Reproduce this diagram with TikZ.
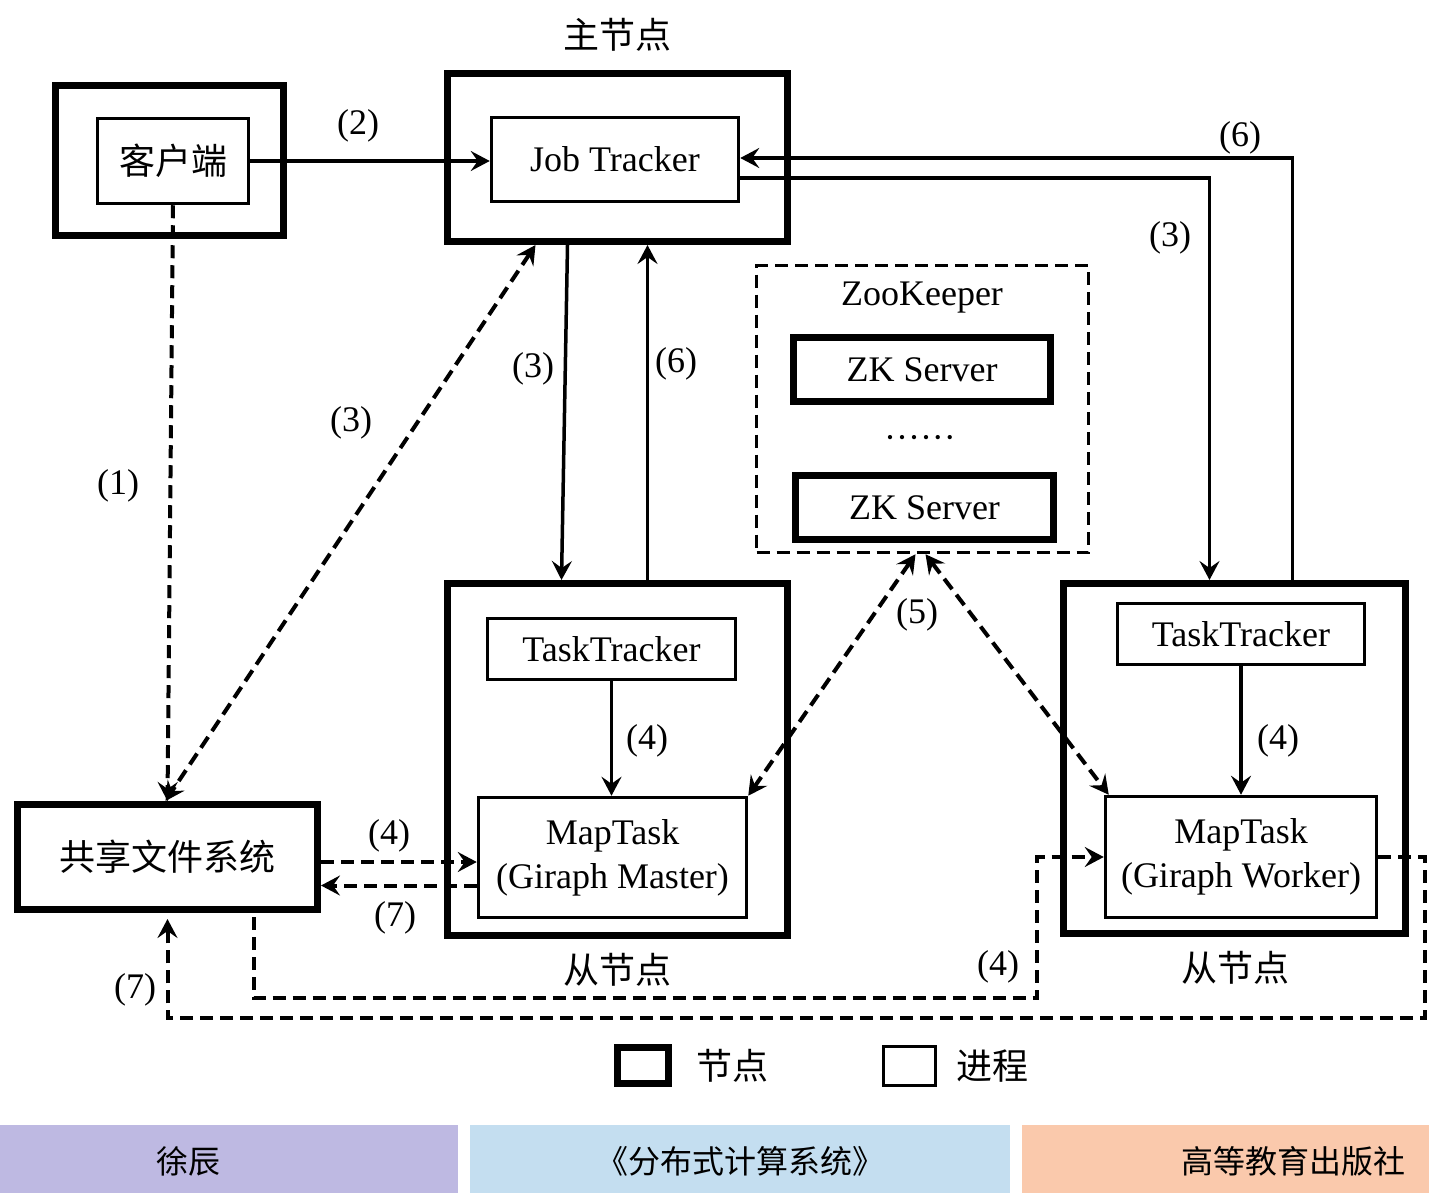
\documentclass[tikz,border=0pt]{standalone}
\usepackage{fontspec}
\setmainfont{Liberation Serif}
\newfontfamily\cjk{Noto Sans CJK SC}
\usetikzlibrary{arrows.meta}

\definecolor{barpurple}{RGB}{190,185,226}
\definecolor{barblue}{RGB}{196,222,240}
\definecolor{barorange}{RGB}{250,201,172}

\begin{document}
\begin{tikzpicture}[x=1pt,y=-1pt,
  font=\fontsize{36}{44}\selectfont,
  >={Stealth[length=19pt,width=20pt,inset=7pt]},
  nodebox/.style={draw,line width=7pt,inner sep=0pt},
  procbox/.style={draw,line width=3.5pt,inner sep=0pt,align=center},
  flow/.style={line width=3.5pt,->},
  dflow/.style={line width=4pt,dash pattern=on 13pt off 7pt},
  l/.style={inner sep=0pt}]
  \useasboundingbox (0,0) rectangle (1429,1193);
  % client and master
  \node[nodebox,minimum width=228pt,minimum height=150pt] (client) at (169.5,160.5) {};
  \node[procbox,minimum width=151pt,minimum height=85pt] (kh) at (173,161) {\cjk 客户端};
  \node[nodebox,minimum width=340pt,minimum height=168pt] (master) at (617.5,157.5) {};
  \node[procbox,minimum width=247pt,minimum height=84pt] (jt) at (615,159.5) {Job Tracker};
  \node[l] (tmaster) at (617,35) {\cjk 主节点};
  % zookeeper
  \node[procbox,dash pattern=on 13pt off 7pt,minimum width=332pt,minimum height=287pt] (zk) at (922.5,409) {};
  \node[l] (tzk) at (922,298) {ZooKeeper};
  \node[nodebox,minimum width=257pt,minimum height=64pt] (zk1) at (922,369.5) {ZK Server};
  \node[l] (dots) at (920,442) {\textperiodcentered\textperiodcentered\textperiodcentered\textperiodcentered\textperiodcentered\textperiodcentered};
  \node[nodebox,minimum width=258pt,minimum height=64pt] (zk2) at (924.5,507.5) {ZK Server};
  % slaves
  \node[nodebox,minimum width=340pt,minimum height=352pt] (s1) at (617.5,759.5) {};
  \node[procbox,minimum width=248pt,minimum height=61pt] (tt1) at (611.5,649) {TaskTracker};
  \node[procbox,minimum width=268pt,minimum height=120pt] (mt1) at (612.5,857.5) {MapTask\\(Giraph Master)};
  \node[l] (ts1) at (617,970) {\cjk 从节点};
  \node[nodebox,minimum width=342pt,minimum height=350pt] (s2) at (1234.5,758.5) {};
  \node[procbox,minimum width=247pt,minimum height=61pt] (tt2) at (1241,634) {TaskTracker};
  \node[procbox,minimum width=271pt,minimum height=121pt] (mt2) at (1241,857) {MapTask\\(Giraph Worker)};
  \node[l] (ts2) at (1235,968) {\cjk 从节点};
  % shared file system
  \node[nodebox,minimum width=300pt,minimum height=105pt] (fs) at (167.5,857) {\cjk 共享文件系统};
  % connectors
  \draw[flow] (kh.east) -- (kh.east -| jt.west);
  \draw[dflow,->] (kh.south) -- (fs.north);
  \draw[dflow,<->] ([xshift=-82pt]master.south) -- ([xshift=-2pt]fs.north);
  \draw[flow] ([xshift=-50pt]master.south) -- ([xshift=-56pt]s1.north);
  \draw[flow] ([xshift=30pt]s1.north) -- ([xshift=30pt]s1.north |- master.south);
  \draw[flow] ([xshift=58pt]s2.north) |- ([yshift=1.5pt]jt.east);
  \draw[flow] ([yshift=-18.5pt]jt.east) -| ([xshift=-25pt]s2.north);
  \draw[flow] (tt1.south) -- (tt1.south |- mt1.north);
  \draw[flow] (tt2.south) -- (tt2.south |- mt2.north);
  \draw[dflow,<->] ([xshift=-7pt]zk.south) -- (mt1.north east);
  \draw[dflow,<->] ([xshift=3pt]zk.south) -- ([xshift=5pt]mt2.north west);
  \draw[dflow,->] ([yshift=-5pt]fs.east) -- ([yshift=-5pt]fs.east -| mt1.west);
  \draw[dflow,->] ([yshift=-28pt]mt1.west) -- ([yshift=-28pt]mt1.west -| fs.east);
  \coordinate (c4) at (1037,998);
  \coordinate (c7) at (1425,1018);
  \draw[dflow,->] ([xshift=86pt,yshift=-4pt]fs.south) |- (c4) |- (mt2.west);
  \draw[dflow,->] (mt2.east) -| (c7) -| ([yshift=-6pt]fs.south);
  % step labels
  \node[l] (l2) at (358,126) {(2)};
  \node[l] (l1) at (118,486) {(1)};
  \node[l] (l3a) at (351,423) {(3)};
  \node[l] (l3b) at (533,369) {(3)};
  \node[l] (l6a) at (676,364) {(6)};
  \node[l] (l6b) at (1240,138) {(6)};
  \node[l] (l3c) at (1170,238) {(3)};
  \node[l] (l4a) at (647,741) {(4)};
  \node[l] (l4b) at (1278,741) {(4)};
  \node[l] (l5) at (917,615) {(5)};
  \node[l] (l4c) at (389,836) {(4)};
  \node[l] (l7a) at (395,918) {(7)};
  \node[l] (l4d) at (998,967) {(4)};
  \node[l] (l7b) at (135,990) {(7)};
  % legend
  \node[nodebox,minimum width=51pt,minimum height=36pt] (kn) at (643,1065.5) {};
  \node[l,anchor=west] (tkn) at (696,1066) {\cjk 节点};
  \node[procbox,minimum width=52pt,minimum height=39pt] (kp) at (909.5,1066) {};
  \node[l,anchor=west] (tkp) at (956,1066) {\cjk 进程};
  % footer bar
  \fill[barpurple] (0,1125) rectangle (458,1193);
  \fill[barblue] (470,1125) rectangle (1010,1193);
  \fill[barorange] (1022,1125) rectangle (1429,1193);
  \node[l,font=\fontsize{32}{36}\selectfont] (fa) at (188,1161) {\cjk 徐辰};
  \node[l,font=\fontsize{32}{36}\selectfont] (fb) at (740,1161) {\cjk 《分布式计算系统》};
  \node[l,font=\fontsize{32}{36}\selectfont] (fc) at (1293,1161) {\cjk 高等教育出版社};
\end{tikzpicture}
\end{document}
